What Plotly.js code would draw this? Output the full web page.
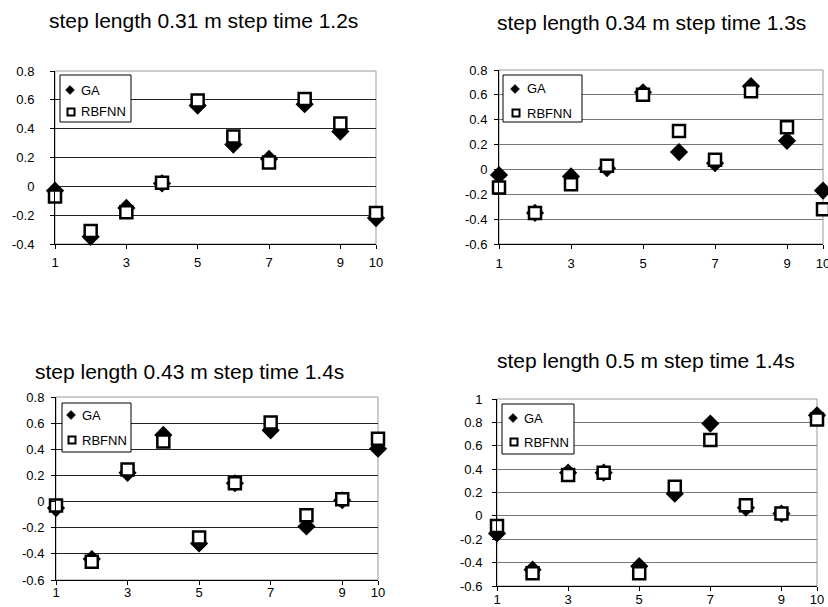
<!DOCTYPE html>
<html>
<head>
<meta charset="utf-8">
<script src="https://cdn.plot.ly/plotly-3.0.1.min.js"></script>
<style>html,body{margin:0;padding:0;background:#fff;}#chart{width:828px;height:607px;}</style>
</head>
<body>
<div id="chart"></div>
<script>
// ---- data ----
const steps = [1, 2, 3, 4, 5, 6, 7, 8, 9, 10];
const titles = [
  "step length 0.31 m step time 1.2s",
  "step length 0.34 m step time 1.3s",
  "step length 0.43 m step time 1.4s",
  "step length 0.5 m step time 1.4s"
];
const ga1    = [-0.03, -0.35, -0.15, 0.02, 0.56, 0.29, 0.19, 0.57, 0.38, -0.22];
const rbfnn1 = [-0.07, -0.31, -0.18, 0.025, 0.595, 0.345, 0.165, 0.605, 0.435, -0.185];
const ga2    = [-0.045, -0.35, -0.056, 0.01, 0.62, 0.14, 0.05, 0.67, 0.23, -0.17];
const rbfnn2 = [-0.145, -0.35, -0.12, 0.03, 0.60, 0.31, 0.077, 0.63, 0.34, -0.32];
const ga3    = [-0.05, -0.44, 0.22, 0.51, -0.32, 0.14, 0.545, -0.19, 0.01, 0.405];
const rbfnn3 = [-0.03, -0.46, 0.245, 0.46, -0.275, 0.14, 0.605, -0.105, 0.018, 0.48];
const ga4    = [-0.15, -0.46, 0.37, 0.37, -0.43, 0.19, 0.79, 0.07, 0.02, 0.86];
const rbfnn4 = [-0.086, -0.49, 0.35, 0.37, -0.49, 0.25, 0.65, 0.09, 0.02, 0.825];
const seriesNames = ["GA", "RBFNN"];
const xTickVals = [1, 3, 5, 7, 9, 10];
const xTickText = ["1", "3", "5", "7", "9", "10"];
const yTickVals1 = [-0.4, -0.2, 0, 0.2, 0.4, 0.6, 0.8];
const yTickText1 = ["-0.4", "-0.2", "0", "0.2", "0.4", "0.6", "0.8"];
const yTickVals2 = [-0.6, -0.4, -0.2, 0, 0.2, 0.4, 0.6, 0.8];
const yTickText2 = ["-0.6", "-0.4", "-0.2", "0", "0.2", "0.4", "0.6", "0.8"];
const yTickVals4 = [-0.6, -0.4, -0.2, 0, 0.2, 0.4, 0.6, 0.8, 1];
const yTickText4 = ["-0.6", "-0.4", "-0.2", "0", "0.2", "0.4", "0.6", "0.8", "1"];

// ---- layout helpers ----
const W = 828, H = 607;
const px = v => v / W;
const py = v => 1 - v / H;
const FONT = "Liberation Sans, Arial, sans-serif";

const panels = [
  {ga: ga1, rb: rbfnn1, box: [55, 376, 71, 244], yr: [-0.4, 0.8], tv: yTickVals1, tt: yTickText1, grid: "#222", stand: 13, xstand: 2,
   title: [203, 21], leg: [60, 131, 75, 122], legGA: [70, 90], legRB: [71, 112], legTx: 79},
  {ga: ga2, rb: rbfnn2, box: [499, 823, 70, 244], yr: [-0.6, 0.8], tv: yTickVals2, tt: yTickText2, grid: "#777", stand: 4, xstand: 3,
   title: [651, 22], leg: [503, 582, 75, 122], legGA: [515, 89], legRB: [516, 113], legTx: 525},
  {ga: ga3, rb: rbfnn3, box: [56, 378, 397, 580], yr: [-0.6, 0.8], tv: yTickVals2, tt: yTickText2, grid: "#222", stand: 4, xstand: -4,
   title: [189, 371], leg: [62, 131, 403, 452], legGA: [71, 415], legRB: [72, 440], legTx: 80},
  {ga: ga4, rb: rbfnn4, box: [497, 817, 399, 586], yr: [-0.6, 1.0], tv: yTickVals4, tt: yTickText4, grid: "#777", stand: 7, xstand: -3,
   title: [646, 360], leg: [502, 574, 404, 454], legGA: [513, 418], legRB: [514, 442], legTx: 522}
];

const data = [];
const layout = {
  width: W, height: H,
  margin: {l: 0, r: 0, t: 0, b: 0},
  paper_bgcolor: "#fff", plot_bgcolor: "#fff",
  showlegend: false,
  font: {family: FONT, size: 13, color: "#000"},
  shapes: [], annotations: []
};

panels.forEach((p, i) => {
  const n = i === 0 ? "" : String(i + 1);
  const xa = "x" + n, ya = "y" + n;
  data.push({
    x: steps, y: p.ga, xaxis: xa, yaxis: ya, type: "scatter", mode: "markers",
    name: seriesNames[0], cliponaxis: false,
    marker: {symbol: "diamond", size: 14, color: "#000", line: {width: 0}}
  });
  data.push({
    x: steps, y: p.rb, xaxis: xa, yaxis: ya, type: "scatter", mode: "markers",
    name: seriesNames[1], cliponaxis: false,
    marker: {symbol: "square", size: 12, color: "#fff", line: {width: 2.5, color: "#000"}}
  });
  layout["xaxis" + n] = {
    domain: [px(p.box[0]), px(p.box[1])], anchor: ya,
    range: [1, 10], tickmode: "array", tickvals: xTickVals, ticktext: xTickText,
    showgrid: false, zeroline: false, showline: true, linecolor: "#000", linewidth: 1,
    ticks: "outside", ticklen: 4, tickcolor: "#000", ticklabelstandoff: p.xstand,
    ticklabeloverflow: "allow",
    tickfont: {family: FONT, size: 13, color: "#000"}, fixedrange: true
  };
  layout["yaxis" + n] = {
    domain: [py(p.box[3]), py(p.box[2])], anchor: xa,
    range: p.yr, tickmode: "array", tickvals: p.tv, ticktext: p.tt,
    showgrid: true, gridcolor: p.grid, gridwidth: 1, zeroline: false,
    showline: true, linecolor: "#000", linewidth: 1,
    ticks: "outside", ticklen: 4, tickcolor: "#000", ticklabelstandoff: p.stand,
    ticklabeloverflow: "allow",
    tickfont: {family: FONT, size: 13, color: "#000"}, fixedrange: true
  };
  // plot-area frame (top/right in gray)
  layout.shapes.push({type: "rect", xref: xa + " domain", yref: ya + " domain", x0: 0, x1: 1, y0: 0, y1: 1,
    line: {color: "#999", width: 1}, layer: "below"});
  // title
  layout.annotations.push({text: titles[i], xref: "paper", yref: "paper", x: px(p.title[0]), y: py(p.title[1]),
    xanchor: "center", yanchor: "middle", showarrow: false, font: {family: FONT, size: 21, color: "#000"}});
  // legend box
  layout.shapes.push({type: "rect", xref: "paper", yref: "paper", x0: px(p.leg[0]), x1: px(p.leg[1]), y0: py(p.leg[3]), y1: py(p.leg[2]),
    line: {color: "#000", width: 1}, fillcolor: "#fff", layer: "above"});
  const d = 4.5;
  const gx = p.legGA[0], gy = p.legGA[1];
  layout.shapes.push({type: "path", xref: "paper", yref: "paper",
    path: `M ${px(gx)} ${py(gy - d)} L ${px(gx + d)} ${py(gy)} L ${px(gx)} ${py(gy + d)} L ${px(gx - d)} ${py(gy)} Z`,
    fillcolor: "#000", line: {color: "#000", width: 0.5}, layer: "above"});
  const rx = p.legRB[0], ry = p.legRB[1], s = 3.5;
  layout.shapes.push({type: "rect", xref: "paper", yref: "paper", x0: px(rx - s), x1: px(rx + s), y0: py(ry + s), y1: py(ry - s),
    line: {color: "#000", width: 2}, fillcolor: "#fff", layer: "above"});
  layout.annotations.push({text: seriesNames[0], xref: "paper", yref: "paper", x: px(p.legTx), y: py(gy),
    xanchor: "left", yanchor: "middle", showarrow: false, font: {family: FONT, size: 13, color: "#000"}});
  layout.annotations.push({text: seriesNames[1], xref: "paper", yref: "paper", x: px(p.legTx), y: py(ry),
    xanchor: "left", yanchor: "middle", showarrow: false, font: {family: FONT, size: 13, color: "#000"}});
});

Plotly.newPlot("chart", data, layout, {staticPlot: true, displayModeBar: false});
</script>
</body>
</html>
